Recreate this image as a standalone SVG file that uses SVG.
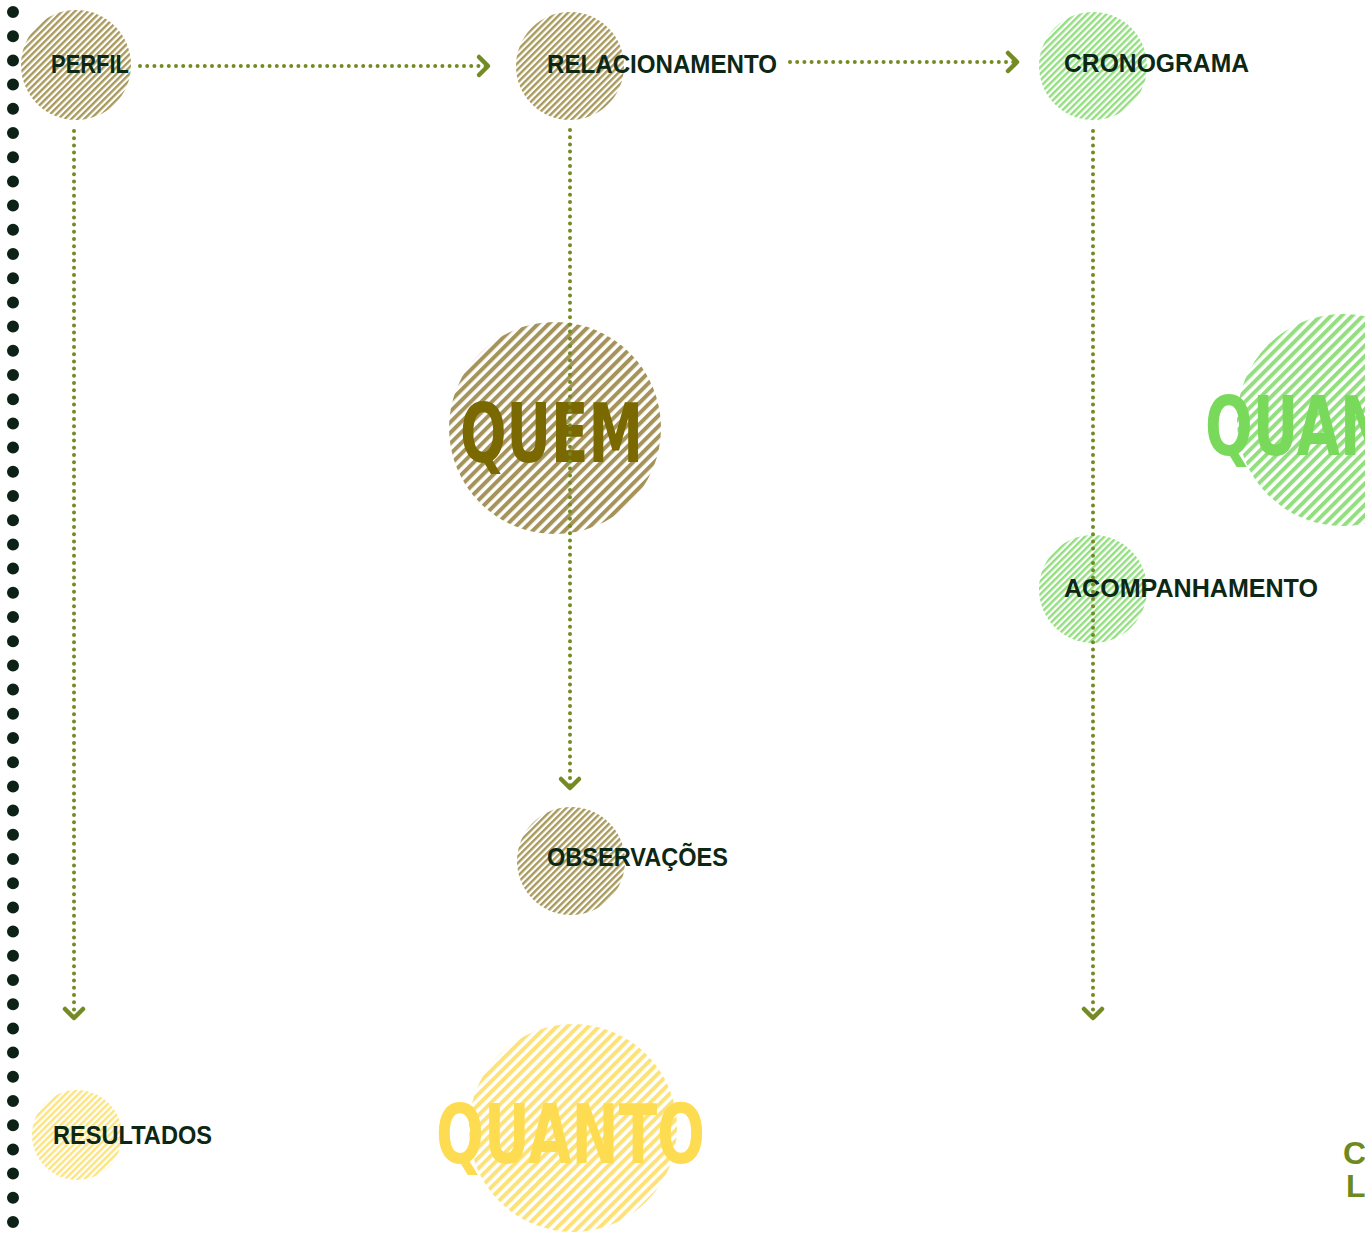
<svg xmlns="http://www.w3.org/2000/svg" width="1365" height="1234" viewBox="0 0 1365 1234">
  <defs>
    <pattern id="olS" patternUnits="userSpaceOnUse" width="4.6" height="10" patternTransform="rotate(45)">
      <rect width="2.4" height="10" fill="#a8995c"/>
    </pattern>
    <pattern id="olL" patternUnits="userSpaceOnUse" width="7.5" height="10" patternTransform="rotate(45)">
      <rect width="4" height="10" fill="#a4935a"/>
    </pattern>
    <pattern id="grS" patternUnits="userSpaceOnUse" width="4.6" height="10" patternTransform="rotate(45)">
      <rect width="2.4" height="10" fill="#93df80"/>
    </pattern>
    <pattern id="grL" patternUnits="userSpaceOnUse" width="7.5" height="10" patternTransform="rotate(45)">
      <rect width="4" height="10" fill="#93df80"/>
    </pattern>
    <pattern id="yeS" patternUnits="userSpaceOnUse" width="4.6" height="10" patternTransform="rotate(45)">
      <rect width="2.4" height="10" fill="#fde47e"/>
    </pattern>
    <pattern id="yeL" patternUnits="userSpaceOnUse" width="7.5" height="10" patternTransform="rotate(45)">
      <rect width="4" height="10" fill="#fde27a"/>
    </pattern>
    <marker id="chev" markerUnits="userSpaceOnUse" viewBox="-16 -16 32 32" markerWidth="32" markerHeight="32" refX="0" refY="0" orient="auto">
      <path d="M-9,-9 L0,0 L-9,9" fill="none" stroke="#748a22" stroke-width="4.5" stroke-linecap="round" stroke-linejoin="round"/>
    </marker>
  </defs>
  <style>
    .lbl { font-family: "Liberation Sans", "DejaVu Sans", sans-serif; font-weight: bold; font-size: 25px; fill: #0c2714; }
    .big { font-family: "DejaVu Sans", "Liberation Sans", sans-serif; font-weight: bold; font-size: 82px; }
    .cor { font-family: "Liberation Sans", sans-serif; font-weight: bold; font-size: 32px; fill: #6e8a1e; }
    .con { fill: none; stroke: #748a22; stroke-width: 4; stroke-linecap: round; stroke-dasharray: 0 7.2; }
    .side { fill: none; stroke: #0c2216; stroke-width: 12; stroke-linecap: round; stroke-dasharray: 0 24.2; }
  </style>
  <rect width="1365" height="1234" fill="#ffffff"/>

  <g id="sideline">
    <path class="side" d="M13,12 V1223"/>
  </g>

  <g id="perfil">
    <circle cx="76" cy="65" r="55" fill="url(#olS)"/>
    <text class="lbl" x="51" y="73" textLength="78" lengthAdjust="spacingAndGlyphs">PERFIL</text>
  </g>
  <g id="relacionamento">
    <circle cx="570" cy="66" r="54" fill="url(#olS)"/>
    <text class="lbl" x="547" y="73" textLength="230" lengthAdjust="spacingAndGlyphs">RELACIONAMENTO</text>
  </g>
  <g id="cronograma">
    <circle cx="1093" cy="66" r="54" fill="url(#grS)"/>
    <text class="lbl" x="1064" y="72" textLength="185" lengthAdjust="spacingAndGlyphs">CRONOGRAMA</text>
  </g>
  <g id="quem">
    <circle cx="555" cy="428" r="106" fill="url(#olL)"/>
    <text class="big" x="460" y="462" fill="#7a6800" textLength="183" lengthAdjust="spacingAndGlyphs">QUEM</text>
  </g>
  <g id="quan">
    <circle cx="1343" cy="420" r="106" fill="url(#grL)"/>
    <text class="big" x="1205" y="455" fill="#78d95a" textLength="182" lengthAdjust="spacingAndGlyphs">QUAN</text>
  </g>
  <g id="acompanhamento">
    <circle cx="1093" cy="589" r="54" fill="url(#grS)"/>
    <text class="lbl" x="1064" y="597" textLength="254" lengthAdjust="spacingAndGlyphs">ACOMPANHAMENTO</text>
  </g>
  <g id="observacoes">
    <circle cx="571" cy="861" r="54" fill="url(#olS)"/>
    <text class="lbl" x="547" y="866" textLength="181" lengthAdjust="spacingAndGlyphs">OBSERVAÇÕES</text>
  </g>
  <g id="resultados">
    <circle cx="77" cy="1135" r="45" fill="url(#yeS)"/>
    <text class="lbl" x="53" y="1144" textLength="159" lengthAdjust="spacingAndGlyphs">RESULTADOS</text>
  </g>
  <g id="quanto">
    <circle cx="573" cy="1128" r="104" fill="url(#yeL)"/>
    <text class="big" x="436" y="1163" fill="#fddc52" textLength="269" lengthAdjust="spacingAndGlyphs">QUANTO</text>
  </g>
  <g id="corner">
    <text class="cor" x="1343" y="1164">C</text>
    <text class="cor" x="1346" y="1197">L</text>
  </g>

  <g id="connectors">
    <path class="con" d="M140,66 H488" marker-end="url(#chev)"/>
    <path class="con" d="M790,62 H1017" marker-end="url(#chev)"/>
    <path class="con" d="M74,131 V1018" marker-end="url(#chev)"/>
    <path class="con" d="M570,130 V788" marker-end="url(#chev)"/>
    <path class="con" d="M1093,131 V1018" marker-end="url(#chev)"/>
  </g>
</svg>
